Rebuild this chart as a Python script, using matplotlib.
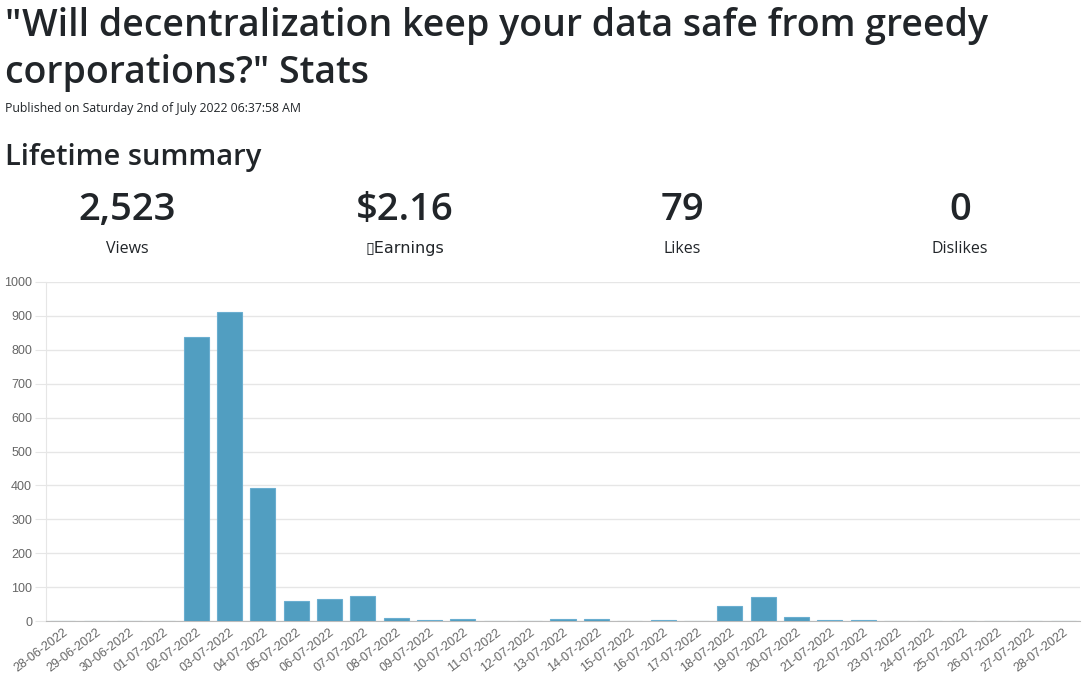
import matplotlib.pyplot as plt
import numpy as np

###############################################################################
## Data
###############################################################################

dates = ['28-06-2022', '29-06-2022', '30-06-2022', '01-07-2022', '02-07-2022',
         '03-07-2022', '04-07-2022', '05-07-2022', '06-07-2022', '07-07-2022',
         '08-07-2022', '09-07-2022', '10-07-2022', '11-07-2022', '12-07-2022',
         '13-07-2022', '14-07-2022', '15-07-2022', '16-07-2022', '17-07-2022',
         '18-07-2022', '19-07-2022', '20-07-2022', '21-07-2022', '22-07-2022',
         '23-07-2022', '24-07-2022', '25-07-2022', '26-07-2022', '27-07-2022',
         '28-07-2022']
views = [0, 0, 0, 0, 838, 912, 393, 59, 65, 74, 9, 4, 6, 1, 1, 5, 5, 0, 3, 1,
         43, 72, 11, 3, 3, 1, 1, 0, 0, 1, 0]

stat_values = ['2,523', '$2.16', '79', '0']
stat_labels = ['Views', '\u25afEarnings', 'Likes', 'Dislikes']

title = '"Will decentralization keep your data safe from greedy\ncorporations?" Stats'
published = 'Published on Saturday 2nd of July 2022 06:37:58 AM'

###############################################################################
## Figure
###############################################################################

W, H = 1091, 679
fig = plt.figure(figsize=(W / 100, H / 100), dpi=100)
plt.rcParams['font.family'] = ['Open Sans', 'DejaVu Sans']

def fy(py):
    return 1 - py / H

fig.text(5 / W, fy(36), title.split('\n')[0], fontsize=27, fontweight='semibold',
         color='#212529', va='baseline')
fig.text(5 / W, fy(83), title.split('\n')[1], fontsize=27, fontweight='semibold',
         color='#212529', va='baseline')
fig.text(5 / W, fy(112), published, fontsize=8.8, color='#212529', va='baseline')
fig.text(5 / W, fy(165), 'Lifetime summary', fontsize=21, fontweight='semibold',
         color='#212529', va='baseline')

centers = [127, 405, 682, 960]
for cx, v, lab in zip(centers, stat_values, stat_labels):
    fig.text(cx / W, fy(220), v, fontsize=27.5, fontweight='semibold', color='#212529',
             ha='center', va='baseline')
    fig.text(cx / W, fy(253), lab, fontsize=11.5, color='#212529',
             ha='center', va='baseline', family=['DejaVu Sans'] if '\u25af' in lab else None)

###############################################################################
## Bar chart
###############################################################################

ax = fig.add_axes([46 / W, fy(621), (1080 - 46) / W, (621 - 282) / H])
x = np.arange(len(dates))
ax.bar(x, views, width=0.75, color='#519ec1', edgecolor='#6aaed0', linewidth=0.8,
       zorder=3)

ax.set_xlim(-0.5, len(dates) - 0.5)
ax.set_ylim(0, 1000)
ax.set_yticks(np.arange(0, 1001, 100))
ax.grid(axis='y', color='#e6e6e6', linewidth=1, zorder=0)
ax.tick_params(axis='y', length=8, color='#e6e6e6', labelcolor='#666666',
               labelsize=9, pad=2)
ax.set_xticks(x)
ax.set_xticklabels(dates, rotation=37, ha='right', rotation_mode='anchor',
                   fontsize=9, color='#666666')
ax.tick_params(axis='x', length=0, pad=4)
for lab in ax.get_yticklabels() + ax.get_xticklabels():
    lab.set_family('Liberation Sans')

for s in ['top', 'right']:
    ax.spines[s].set_visible(False)
ax.spines['left'].set_color('#e6e6e6')
ax.spines['bottom'].set_color('#bbbbbb')

fig.savefig('out.png', dpi=100)
